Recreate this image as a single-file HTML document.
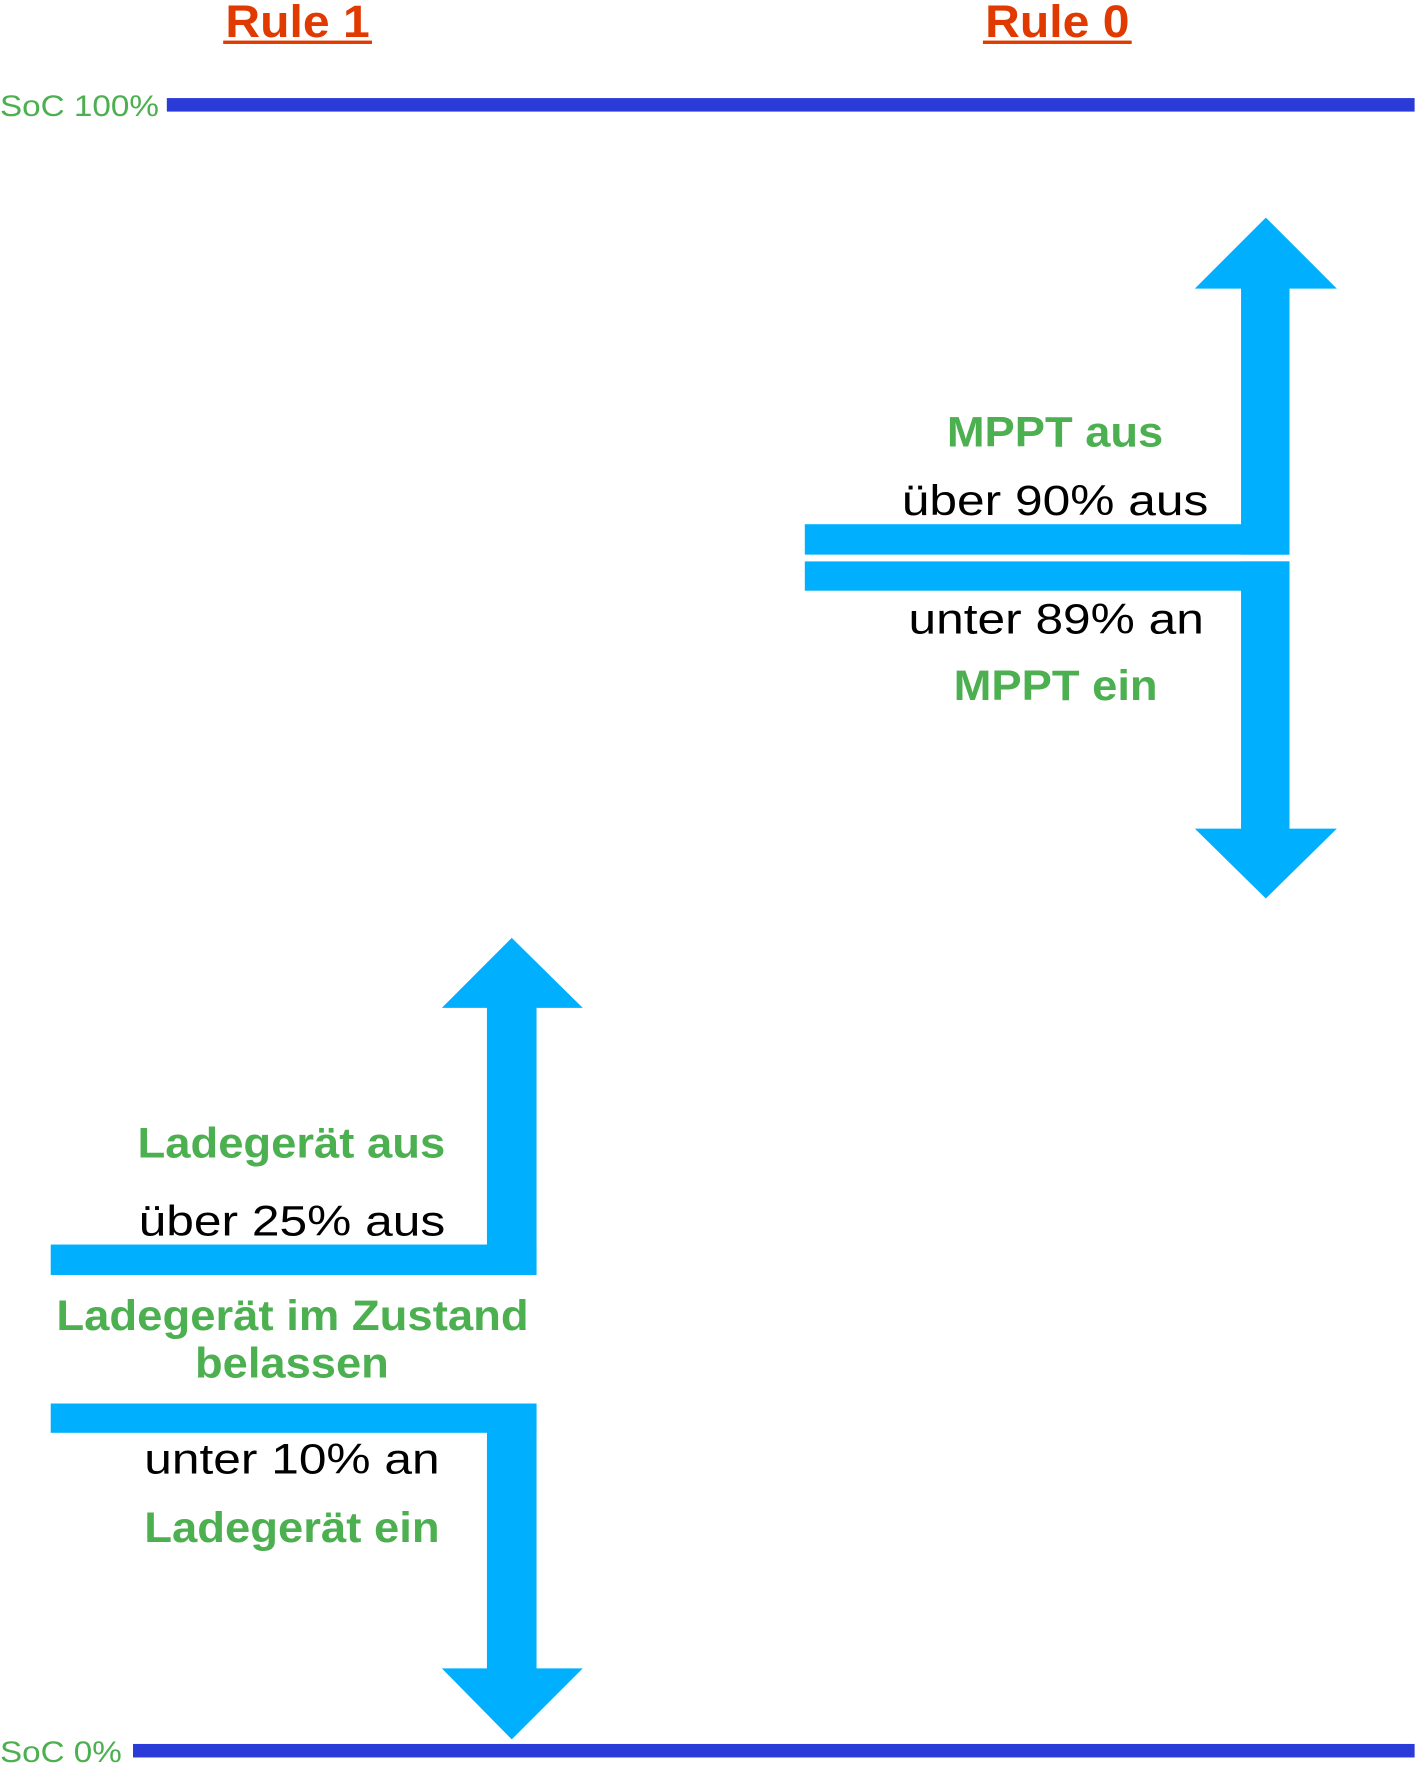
<!DOCTYPE html>
<html><head><meta charset="utf-8"><style>html,body{margin:0;padding:0;background:#fff}svg{display:block}</style></head>
<body>
<svg width="1418" height="1771" viewBox="0 0 1258 1571" preserveAspectRatio="none" xmlns="http://www.w3.org/2000/svg" font-family="Liberation Sans, Arial, sans-serif">
<g fill="#e03a00" font-weight="bold" font-size="40" text-anchor="middle">
<text x="264" y="33" textLength="128" lengthAdjust="spacingAndGlyphs">Rule 1</text>
<text x="938" y="33" textLength="128" lengthAdjust="spacingAndGlyphs">Rule 0</text>
</g>
<rect x="198" y="36" width="132" height="3" fill="#e03a00"/>
<rect x="872" y="36" width="132" height="3" fill="#e03a00"/>
<rect x="148" y="87" width="1107" height="12" fill="#2a3bd8"/>
<rect x="118" y="1547" width="1137" height="12" fill="#2a3bd8"/>
<g fill="#4caf50" font-size="26">
<text x="0" y="103" textLength="141" lengthAdjust="spacingAndGlyphs">SoC 100%</text>
<text x="0" y="1563" textLength="108" lengthAdjust="spacingAndGlyphs">SoC 0%</text>
</g>
<g fill="#00b0ff">
<polygon points="1123,193 1186,256 1060,256"/>
<rect x="1101" y="255" width="43" height="237"/>
<rect x="714" y="465" width="430" height="27"/>
<rect x="714" y="498" width="430" height="26"/>
<rect x="1101" y="498" width="43" height="238"/>
<polygon points="1060,735 1186,735 1123,797"/>
<polygon points="454,832 517,894 392,894"/>
<rect x="432" y="893" width="44" height="238"/>
<rect x="45" y="1104" width="431" height="27"/>
<rect x="45" y="1245" width="431" height="26"/>
<rect x="432" y="1245" width="44" height="236"/>
<polygon points="392,1480 517,1480 454,1543"/>
</g>
<g font-size="38" lengthAdjust="spacingAndGlyphs">
<text x="840" y="396" fill="#4caf50" font-weight="bold" textLength="192" lengthAdjust="spacingAndGlyphs">MPPT aus</text>
<text x="800" y="457" fill="#000" textLength="272" lengthAdjust="spacingAndGlyphs">über 90% aus</text>
<text x="806" y="562" fill="#000" textLength="262" lengthAdjust="spacingAndGlyphs">unter 89% an</text>
<text x="846" y="621" fill="#4caf50" font-weight="bold" textLength="181" lengthAdjust="spacingAndGlyphs">MPPT ein</text>
<text x="122" y="1027" fill="#4caf50" font-weight="bold" textLength="273" lengthAdjust="spacingAndGlyphs">Ladegerät aus</text>
<text x="123" y="1096" fill="#000" textLength="272" lengthAdjust="spacingAndGlyphs">über 25% aus</text>
<text x="50" y="1180" fill="#4caf50" font-weight="bold" textLength="419" lengthAdjust="spacingAndGlyphs">Ladegerät im Zustand</text>
<text x="173" y="1222" fill="#4caf50" font-weight="bold" textLength="172" lengthAdjust="spacingAndGlyphs">belassen</text>
<text x="128" y="1307" fill="#000" textLength="262" lengthAdjust="spacingAndGlyphs">unter 10% an</text>
<text x="128" y="1368" fill="#4caf50" font-weight="bold" textLength="262" lengthAdjust="spacingAndGlyphs">Ladegerät ein</text>
</g>
</svg>
</body></html>
